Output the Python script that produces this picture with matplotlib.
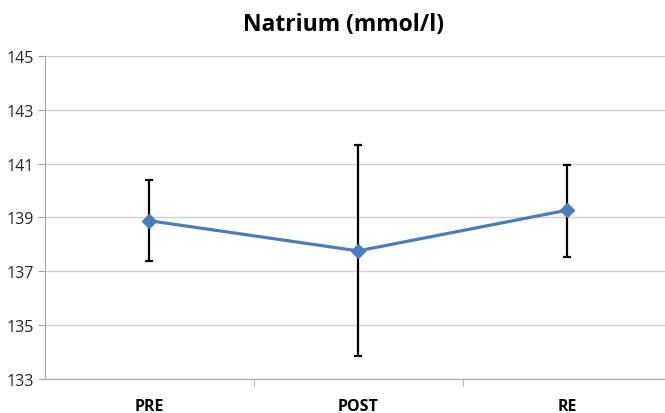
import matplotlib
matplotlib.use("Agg")
import matplotlib.pyplot as plt
import numpy as np

categories = ["PRE", "POST", "RE"]
means = [138.88, 137.76, 139.27]
err_upper = [140.39, 141.71, 140.94]
err_lower = [137.38, 133.84, 137.53]
yticks = [133, 135, 137, 139, 141, 143, 145]

plt.rcParams['font.family'] = ['Open Sans', 'DejaVu Sans']

fig = plt.figure(figsize=(6.65, 4.14), dpi=100)
ax = fig.add_axes([45/665, 1 - 380/414, 1 - 45/665, (380 - 57)/414])

x = np.arange(len(categories))
m = np.array(means)
yerr = [m - np.array(err_lower), np.array(err_upper) - m]
ax.errorbar(x, m, yerr=yerr, fmt='none', ecolor='black', elinewidth=1.6, capsize=2.8, capthick=1.6, zorder=3)
ax.plot(x, m, color='#4a7ebb', lw=2.3, marker='D', markersize=7, zorder=4)

ax.set_ylim(133, 145)
ax.set_yticks(yticks)
ax.set_xlim(-0.5, 2.47)
ax.set_xticks(x)
ax.set_xticklabels(categories, fontweight='bold', fontsize=11.5)
ax.set_xticks([0.5, 1.5], minor=True)
ax.tick_params(axis='x', which='major', length=0, pad=14, colors='black')
ax.tick_params(axis='x', which='minor', length=5, color='#a6a6a6', direction='out')
ax.tick_params(axis='y', length=5, color='#a6a6a6', labelsize=11.5, labelcolor='#262626', pad=3)
ax.grid(axis='y', color='#d0d0d0', lw=1)
ax.set_axisbelow(True)
for s in ['top', 'right']:
    ax.spines[s].set_visible(False)
ax.spines['left'].set_color('#a6a6a6')
ax.spines['bottom'].set_color('#a6a6a6')

fig.text(343/665, 1 - 25/414, "Natrium (mmol/l)", ha='center', va='center', fontsize=16.5, fontweight='bold')

fig.savefig("out.png", dpi=100)
